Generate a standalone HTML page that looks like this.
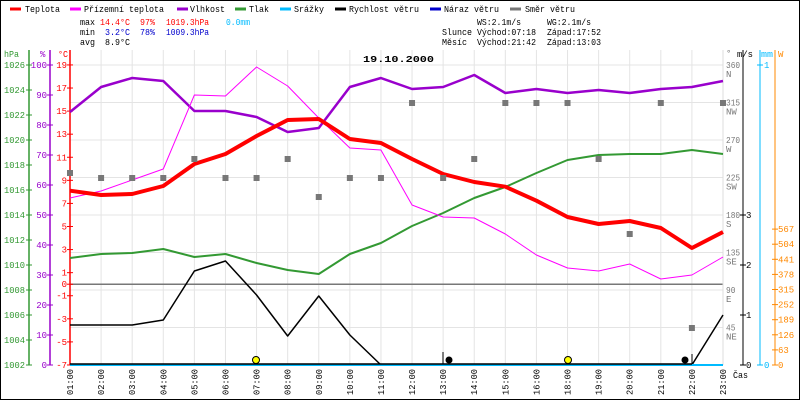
<!DOCTYPE html>
<html><head><meta charset="utf-8"><style>
html,body{margin:0;padding:0;background:#fff}
svg{display:block}
text{font-family:"Liberation Mono",monospace;font-size:9px}
</style></head><body>
<svg id="s" width="800" height="400" viewBox="0 0 800 400" xmlns="http://www.w3.org/2000/svg">
<rect x="0.5" y="0.5" width="799" height="399" fill="#fff" stroke="#000"/>
<g id="g"></g>
</svg>
<script>
const NS="http://www.w3.org/2000/svg";const g=document.getElementById('g');
function el(t,a,txt){const e=document.createElementNS(NS,t);for(const k in a)e.setAttribute(k,a[k]);if(txt!==undefined)e.textContent=txt;g.appendChild(e);return e;}
function line(x1,y1,x2,y2,c,w){el('line',{x1,y1,x2,y2,stroke:c,'stroke-width':w||1});}
function txt(x,y,s,c,o){o=o||{};const a={x,y,fill:c||'#000'};if(o.a)a['text-anchor']=o.a;if(o.l){a.textLength=o.l;a.lengthAdjust='spacingAndGlyphs';}if(o.fs)a['font-size']=o.fs;if(o.fw)a['font-weight']=o.fw;if(o.tr)a.transform=o.tr;return el('text',a,s);}
const X=i=>70+i*31.095;
for(let i=0;i<22;i++)line(X(i),50,X(i),365,'#e4e4e4',1);
for(let k=0;k<8;k++){const y=65+k*37.5;line(70,y,723,y,'#e4e4e4',1);}
line(70,284.2,723,284.2,'#777',1.5);
const L=[[10,'#f00','Teplota',25,35],[70,'#f0f','Přízemní teplota',84,80],[177,'#90c','Vlhkost',190,35],[235,'#393','Tlak',249,20],[280,'#0bf','Srážky',294,30],[335,'#000','Rychlost větru',349,70],[430,'#00c','Náraz větru',444,55],[510,'#777','Směr větru',525,50]];
L.forEach(l=>{line(l[0],9,l[0]+11,9,l[1],3);txt(l[3],12,l[2],'#000',{l:l[4]});});
txt(80,25,'max','#000',{l:15});txt(100,25,'14.4°C','#f00',{l:30});txt(140,25,'97%','#f00',{l:15});txt(166,25,'1019.3hPa','#f00',{l:43});txt(226,25,'0.0mm','#0bf',{l:24});
txt(80,35,'min','#000',{l:15});txt(105,35,'3.2°C','#00c',{l:25});txt(140,35,'78%','#00c',{l:15});txt(166,35,'1009.3hPa','#00c',{l:43});
txt(80,45,'avg','#000',{l:15});txt(105,45,'8.9°C','#000',{l:25});
txt(477,25,'WS:2.1m/s','#000',{l:44});txt(547,25,'WG:2.1m/s','#000',{l:44});
txt(442,35,'Slunce','#000',{l:30});txt(477,35,'Východ:07:18','#000',{l:59});txt(547,35,'Západ:17:52','#000',{l:54});
txt(442,45,'Měsíc','#000',{l:25});txt(477,45,'Východ:21:42','#000',{l:59});txt(547,45,'Západ:13:03','#000',{l:54});
txt(363,62,'19.10.2000','#000',{l:71,fs:13,fw:'bold'});
line(29,50,29,365,'#393',1.5);line(50,50,50,365,'#90c',1.5);line(70,50,70,365,'#f00',1.5);
txt(4,57,'hPa','#393',{l:15});txt(40,57,'%','#90c');txt(58,57,'°C','#f00',{l:10});
for(let k=0;k<13;k++){const y=65+k*25;line(26,y,32,y,'#393');txt(4,y+3,String(1026-2*k),'#393',{l:21});}
for(let k=0;k<11;k++){const y=65+k*30;line(47,y,53,y,'#90c');txt(47,y+3,String(100-10*k),'#90c',{a:'end'});}
[19,17,15,13,11,9,7,5,3,1,0,-1,-3,-5,-7].forEach(v=>{const y=284.2-11.54*v;line(67,y,73,y,'#f00');txt(67,y+3,String(v),'#f00',{a:'end'});});
line(723,50,723,365,'#ddd',1);line(743,50,743,365,'#000',1);line(760,50,760,365,'#0bf',1);line(775,50,775,365,'#f80',1);
txt(726,56,'°','#777');txt(737,57,'m/s','#000',{l:16});txt(761,57,'mm','#0bf',{l:12});txt(778,57,'W','#f80');
const C=['N','NW','W','SW','S','SE','E','NE'];
for(let k=0;k<8;k++){const y=65+k*37.5;const s=String(360-45*k);txt(726,y+3,s,'#777',{l:s.length*4.7});txt(726,y+12,C[k],'#777');}
for(let k=0;k<4;k++){const y=365-50*k;line(740,y,746,y,'#000');txt(746,y+3,String(k),'#000');}
line(757,65,763,65,'#0bf');txt(764,68,'1','#0bf');line(757,365,763,365,'#0bf');txt(764,368,'0','#0bf');
for(let k=0;k<10;k++){const y=365-k*15.1;line(772,y,778,y,'#f80');txt(778,y+3,String(63*k),'#f80');}
const H=['01','02','03','04','05','06','07','08','09','10','11','12','13','14','15','16','18','19','20','21','22','23'];
H.forEach((h,i)=>{txt(0,0,h+':00','#000',{l:26,tr:`translate(${X(i)+3},395) rotate(-90)`});});
txt(733,378,'Čas','#000',{l:15});
function poly(ys,c,w){el('polyline',{points:ys.map((y,i)=>X(i)+','+y).join(' '),fill:'none',stroke:c,'stroke-width':w,'stroke-linejoin':'round'});}
poly([258,254,253,249,257,254,263,270,274,254,243,226,213,198,187,173,160,155,154,154,150,154],'#393',2);
poly([112,87,78,81,111,111,117,132,128,87,78,89,87,75,93,89,93,90,93,89,87,81],'#90c',2.5);
poly([198,191,180,169,95,96,67,86,118,148,150,205,217,218,234,255,268,271,264,279,275,257],'#f0f',1);
poly([190.7,195,194,186,164,154,136,120,119,139,143,159,174,182,186.7,200.7,217,224,221,228,248,232],'#f00',4);
poly([325,325,325,320,271,261,295,336,296,335,365,365,365,365,365,365,365,365,365,365,365,315],'#000',1.5);
line(70,365,723,365,'#0bf',2);line(70,364,692,364,'#000',1.5);
[173,178,178,178,159,178,178,159,197,178,178,103,178,159,103,103,103,159,234,103,328,103].forEach((y,i)=>el('rect',{x:X(i)-3,y:y-3,width:6,height:6,fill:'#777'}));
el('circle',{cx:256,cy:360,r:3.5,fill:'#ff0',stroke:'#000'});el('circle',{cx:568,cy:360,r:3.5,fill:'#ff0',stroke:'#000'});
el('circle',{cx:449,cy:360,r:3.5,fill:'#000'});line(443,352,443,364,'#000',1);
el('circle',{cx:685,cy:360,r:3.5,fill:'#000'});line(692,354,692,364,'#000',1);
</script>
</body></html>
